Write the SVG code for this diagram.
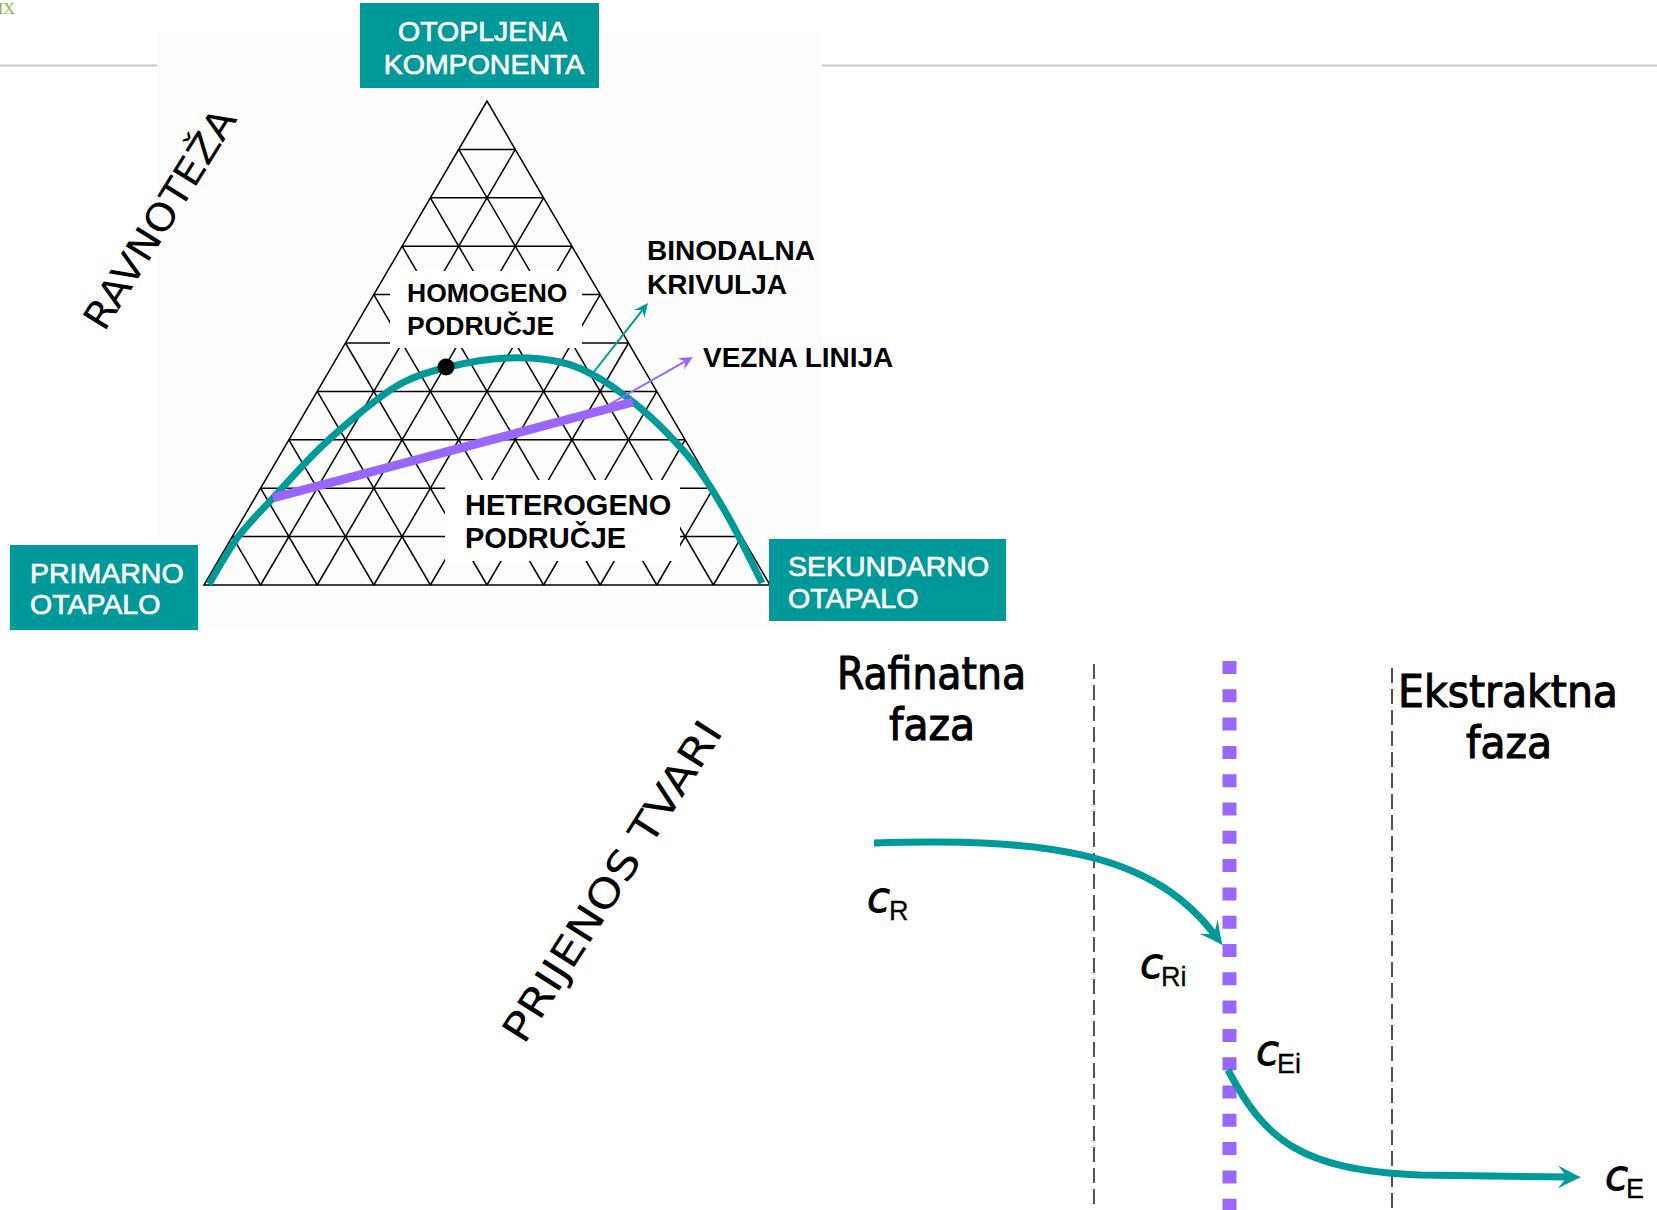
<svg xmlns="http://www.w3.org/2000/svg" width="1657" height="1210" viewBox="0 0 1657 1210">
  <style>
    .teal-box { fill: #009999; }
    .box-text { font-family: "Liberation Sans", Arial, sans-serif; font-size: 28.5px; fill: #ffffff; stroke: #ffffff; stroke-width: 0.7; }
    .lbl { font-family: "Liberation Sans", Arial, sans-serif; font-weight: bold; fill: #000000; }
    .white-bg { fill: #ffffff; }
    .grid line, .grid polygon { stroke: #000000; stroke-width: 1.5; fill: none; }
    .hand { font-family: "DejaVu Sans", "Liberation Sans", sans-serif; fill: #000000; }
    .phase { font-family: "DejaVu Sans", "Liberation Sans", sans-serif; font-size: 44px; fill: #000000; stroke: #000000; stroke-width: 1.1; }
    .cvar { font-family: "DejaVu Sans", "Liberation Sans", sans-serif; font-style: italic; font-size: 42px; fill: #000000; stroke: #000000; stroke-width: 0.8; }
    .sub { font-family: "Liberation Sans", Arial, sans-serif; font-style: normal; font-size: 27px; stroke-width: 0.3; }
    .phase-border { stroke: #1a1a1a; stroke-width: 1.5; stroke-dasharray: 15 6; fill: none; }
    .flow { fill: none; stroke: #009999; stroke-width: 7; }
  </style>
  <defs>
    <marker id="tip-thin-teal" markerUnits="userSpaceOnUse" viewBox="-15 -8 17 16" refX="-9" refY="0" markerWidth="17" markerHeight="16" orient="auto">
      <path d="M0,0 L-14,-6.5 L-9,0 L-14,6.5 Z" fill="#009999"/>
    </marker>
    <marker id="tip-thin-purple" markerUnits="userSpaceOnUse" viewBox="-15 -8 17 16" refX="-9" refY="0" markerWidth="17" markerHeight="16" orient="auto">
      <path d="M0,0 L-14,-6.5 L-9,0 L-14,6.5 Z" fill="#9966ff"/>
    </marker>
    <marker id="tip-flow" markerUnits="userSpaceOnUse" viewBox="-25 -13 27 26" refX="-14" refY="0" markerWidth="27" markerHeight="26" orient="auto">
      <path d="M0,0 Q-10,-4.5 -23,-11.5 L-14,0 L-23,11.5 Q-10,4.5 0,0 Z" fill="#009999"/>
    </marker>
  </defs>

  <rect width="1657" height="1210" fill="#ffffff"/>

  <!-- header rule and corner mark -->
  <g id="header">
    <text x="-2" y="14" font-family="Liberation Serif, serif" font-size="16" fill="#8cb43c">IX</text>
    <line x1="0" y1="65.5" x2="157" y2="65.5" stroke="#c8c8c8" stroke-width="2"/>
    <line x1="822" y1="65.5" x2="1657" y2="65.5" stroke="#c8c8c8" stroke-width="2"/>
  </g>

  <!-- ternary phase diagram -->
  <rect x="157" y="32" width="665" height="596" fill="#fdfdfd"/>
  <g id="ternary-grid" class="grid">
    <polygon points="487,101 204,585 770,585"/>
    <!-- horizontal lines -->
    <line x1="458.7" y1="149.4" x2="515.3" y2="149.4"/>
    <line x1="430.4" y1="197.8" x2="543.6" y2="197.8"/>
    <line x1="402.1" y1="246.2" x2="571.9" y2="246.2"/>
    <line x1="373.8" y1="294.6" x2="600.2" y2="294.6"/>
    <line x1="345.5" y1="343" x2="628.5" y2="343"/>
    <line x1="317.2" y1="391.4" x2="656.8" y2="391.4"/>
    <line x1="288.9" y1="439.8" x2="685.1" y2="439.8"/>
    <line x1="260.6" y1="488.2" x2="713.4" y2="488.2"/>
    <line x1="232.3" y1="536.6" x2="741.7" y2="536.6"/>
    <!-- lines parallel to the left side -->
    <line x1="260.6" y1="585" x2="515.3" y2="149.4"/>
    <line x1="317.2" y1="585" x2="543.6" y2="197.8"/>
    <line x1="373.8" y1="585" x2="571.9" y2="246.2"/>
    <line x1="430.4" y1="585" x2="600.2" y2="294.6"/>
    <line x1="487" y1="585" x2="628.5" y2="343"/>
    <line x1="543.6" y1="585" x2="656.8" y2="391.4"/>
    <line x1="600.2" y1="585" x2="685.1" y2="439.8"/>
    <line x1="656.8" y1="585" x2="713.4" y2="488.2"/>
    <line x1="713.4" y1="585" x2="741.7" y2="536.6"/>
    <!-- lines parallel to the right side -->
    <line x1="260.6" y1="585" x2="232.3" y2="536.6"/>
    <line x1="317.2" y1="585" x2="260.6" y2="488.2"/>
    <line x1="373.8" y1="585" x2="288.9" y2="439.8"/>
    <line x1="430.4" y1="585" x2="317.2" y2="391.4"/>
    <line x1="487" y1="585" x2="345.5" y2="343"/>
    <line x1="543.6" y1="585" x2="373.8" y2="294.6"/>
    <line x1="600.2" y1="585" x2="402.1" y2="246.2"/>
    <line x1="656.8" y1="585" x2="430.4" y2="197.8"/>
    <line x1="713.4" y1="585" x2="458.7" y2="149.4"/>
  </g>

  <g id="label-homogeno">
    <rect class="white-bg" x="390" y="271" width="192" height="77"/>
    <text class="lbl" font-size="26.5" x="407" y="302">HOMOGENO</text>
    <text class="lbl" font-size="26.5" x="407" y="335">PODRUČJE</text>
  </g>

  <g id="label-heterogeno">
    <rect class="white-bg" x="445" y="480" width="235" height="81"/>
    <text class="lbl" font-size="29" x="465" y="515">HETEROGENO</text>
    <text class="lbl" font-size="29" x="465" y="548">PODRUČJE</text>
  </g>

  <!-- binodal curve, tie line and plait point -->
  <g id="binodal-curve">
    <path fill="none" stroke="#009999" stroke-width="7" stroke-linecap="butt"
      d="M209,584 C213.8,576.2 227.3,551.3 238,537 C248.7,522.7 259.7,512.5 273,498 C286.3,483.5 303.5,464.2 318,450 C332.5,435.8 346,424.2 360,413 C374,401.8 387.3,390.7 402,383 C416.7,375.3 430.5,371.2 448,367 C465.5,362.8 488.3,358.8 507,358 C525.7,357.2 545,358.8 560,362 C575,365.2 584.8,370.3 597,377 C609.2,383.7 621.3,392.7 633,402 C644.7,411.3 656,421.7 667,433 C678,444.3 688.5,455.5 699,470 C709.5,484.5 719.5,501.2 730,520 C740.5,538.8 756.7,572.5 762,583"/>
  </g>
  <g id="tie-line">
    <line x1="273" y1="498" x2="633" y2="402" stroke="#9966ff" stroke-width="9"/>
  </g>
  <g id="plait-point">
    <circle cx="446" cy="367" r="8.5" fill="#000000"/>
  </g>

  <g id="box-otopljena">
    <rect class="teal-box" x="360" y="3" width="239" height="85"/>
    <text class="box-text" font-size="27" x="482.5" y="41" text-anchor="middle">OTOPLJENA</text>
    <text class="box-text" font-size="27" x="484" y="74" text-anchor="middle">KOMPONENTA</text>
  </g>
  <g id="box-primarno">
    <rect class="teal-box" x="10" y="545" width="188" height="85"/>
    <text class="box-text" x="30" y="583">PRIMARNO</text>
    <text class="box-text" x="30" y="614">OTAPALO</text>
  </g>
  <g id="box-sekundarno">
    <rect class="teal-box" x="769" y="539" width="237" height="82"/>
    <text class="box-text" x="788" y="576">SEKUNDARNO</text>
    <text class="box-text" x="788" y="608">OTAPALO</text>
  </g>

  <g id="label-binodalna">
    <text class="lbl" font-size="28" x="647" y="260">BINODALNA</text>
    <text class="lbl" font-size="28" x="647" y="294">KRIVULJA</text>
  </g>
  <g id="label-vezna">
    <text class="lbl" font-size="28" x="703" y="367">VEZNA LINIJA</text>
  </g>

  <!-- section titles -->
  <g id="title-ravnoteza">
    <text class="hand" font-size="38" text-anchor="middle" textLength="252" lengthAdjust="spacingAndGlyphs"
      transform="translate(171,226) rotate(-58)">RAVNOTEŽA</text>
  </g>
  <g id="title-prijenos">
    <text class="hand" font-family="DejaVu Sans Mono, monospace" font-size="40" text-anchor="middle" textLength="372" lengthAdjust="spacingAndGlyphs"
      transform="translate(624,889) rotate(-57.5)">PRIJENOS TVARI</text>
  </g>

  <!-- mass transfer across the interface -->
  <g id="phase-raffinate">
    <text class="phase" x="931.5" y="689" text-anchor="middle" textLength="189" lengthAdjust="spacingAndGlyphs">Rafinatna</text>
    <text class="phase" x="932" y="740" text-anchor="middle" textLength="86" lengthAdjust="spacingAndGlyphs">faza</text>
  </g>
  <g id="phase-extract">
    <text class="phase" x="1508" y="707" text-anchor="middle" textLength="220" lengthAdjust="spacingAndGlyphs">Ekstraktna</text>
    <text class="phase" x="1509" y="758" text-anchor="middle" textLength="86" lengthAdjust="spacingAndGlyphs">faza</text>
  </g>

  <g id="film-boundaries">
    <line class="phase-border" x1="1094" y1="664" x2="1094" y2="1205"/>
    <line class="phase-border" x1="1392" y1="668" x2="1392" y2="1210"/>
  </g>
  <g id="interface">
    <line x1="1229.5" y1="661" x2="1229.5" y2="1215" stroke="#9966ff" stroke-width="14" stroke-dasharray="13 15.3"/>
  </g>

  <g id="conc-labels">
    <text class="cvar" x="867" y="912">c<tspan class="sub" x="889" dy="8">R</tspan></text>
    <text class="cvar" x="1140" y="978">c<tspan class="sub" x="1161" dy="8">Ri</tspan></text>
    <text class="cvar" x="1256" y="1065">c<tspan class="sub" x="1277" dy="8">Ei</tspan></text>
    <text class="cvar" x="1605" y="1190">c<tspan class="sub" x="1626" dy="8">E</tspan></text>
  </g>

  <!-- connectors -->
  <g id="connectors">
    <line x1="593" y1="373" x2="642.4" y2="310.1" stroke="#009999" stroke-width="2" marker-end="url(#tip-thin-teal)"/>
    <line x1="610" y1="404" x2="685.2" y2="361.4" stroke="#9966ff" stroke-width="2" marker-end="url(#tip-thin-purple)"/>
    <path class="flow" d="M874,843 C1040,838 1150,850 1214,934" marker-end="url(#tip-flow)"/>
    <path class="flow" d="M1228,1070 C1265,1140 1300,1170 1420,1175 L1567,1177" marker-end="url(#tip-flow)"/>
  </g>
</svg>
